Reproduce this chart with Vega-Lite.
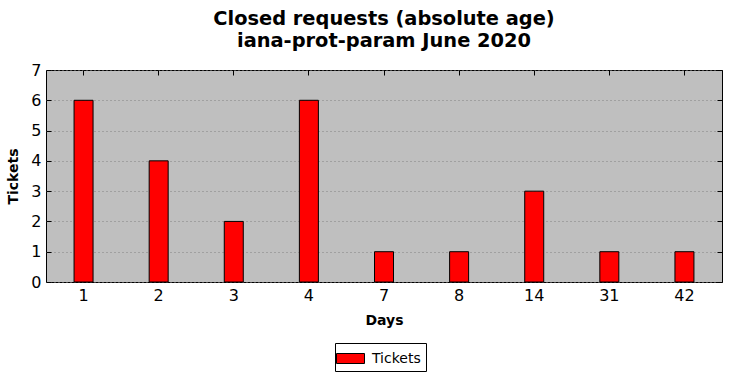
{
  "$schema": "https://vega.github.io/schema/vega-lite/v6.json",
  "width": 676,
  "height": 212,
  "autosize": "none",
  "padding": {"left": 46, "top": 70, "right": 10, "bottom": 96},
  "background": "white",
  "config": {
    "font": "DejaVu Sans",
    "view": {"fill": "#bfbfbf", "stroke": "black", "strokeWidth": 1}
  },
  "title": {
    "text": ["Closed requests (absolute age)", "iana-prot-param June 2020"],
    "font": "DejaVu Sans",
    "fontSize": 19.4,
    "fontWeight": "bold",
    "color": "black",
    "anchor": "middle",
    "lineHeight": 22,
    "offset": 11
  },
  "data": {
    "values": [
      {"days": "1", "tickets": 6},
      {"days": "2", "tickets": 4},
      {"days": "3", "tickets": 2},
      {"days": "4", "tickets": 6},
      {"days": "7", "tickets": 1},
      {"days": "8", "tickets": 1},
      {"days": "14", "tickets": 3},
      {"days": "31", "tickets": 1},
      {"days": "42", "tickets": 1}
    ]
  },
  "layer": [
    {
      "mark": {"type": "bar", "size": 19, "stroke": "black", "strokeWidth": 1},
      "encoding": {
        "x": {
          "field": "days", "type": "ordinal", "sort": null,
          "scale": {"paddingInner": 0, "paddingOuter": 0},
          "axis": {
            "title": "Days", "titleFontSize": 14, "titleFontWeight": "bold", "titleColor": "black",
            "titlePadding": 10,
            "labelAngle": 0, "labelFontSize": 16, "labelColor": "black", "labelPadding": 10,
            "tickSize": -5, "tickColor": "black", "domain": false, "grid": false
          }
        },
        "y": {
          "field": "tickets", "type": "quantitative",
          "scale": {"domain": [0, 7]},
          "axis": {
            "title": "Tickets", "titleFontSize": 14, "titleFontWeight": "bold", "titleColor": "black",
            "titlePadding": 10,
            "values": [0, 1, 2, 3, 4, 5, 6, 7],
            "labelFontSize": 16, "labelColor": "black", "labelPadding": 10,
            "tickSize": -5, "tickColor": "black", "domain": false,
            "grid": true, "gridColor": "#808080", "gridDash": [1, 3], "gridWidth": 1
          }
        },
        "color": {
          "datum": "Tickets", "type": "nominal",
          "scale": {"range": ["red"]},
          "legend": {
            "title": null,
            "orient": "none",
            "legendX": 289,
            "legendY": 273,
            "symbolType": "M-1.4,-0.5H1.4V0.5H-1.4Z",
            "symbolSize": 400,
            "symbolStrokeColor": "black",
            "symbolStrokeWidth": 1,
            "labelFontSize": 14,
            "labelColor": "black",
            "labelOffset": 11,
            "strokeColor": "black",
            "fillColor": "white",
            "padding": 5,
            "cornerRadius": 0
          }
        }
      }
    },
    {
      "mark": {"type": "bar", "opacity": 0},
      "encoding": {
        "x": {
          "field": "days", "type": "ordinal", "sort": null,
          "axis": {"orient": "top", "title": null, "labels": false, "tickSize": -5, "tickColor": "black", "domain": false, "grid": false}
        },
        "y": {
          "field": "tickets", "type": "quantitative",
          "axis": {"orient": "right", "title": null, "labels": false, "values": [0, 1, 2, 3, 4, 5, 6, 7], "tickSize": -5, "tickColor": "black", "domain": false, "grid": false}
        }
      }
    }
  ],
  "resolve": {"axis": {"x": "independent", "y": "independent"}}
}
